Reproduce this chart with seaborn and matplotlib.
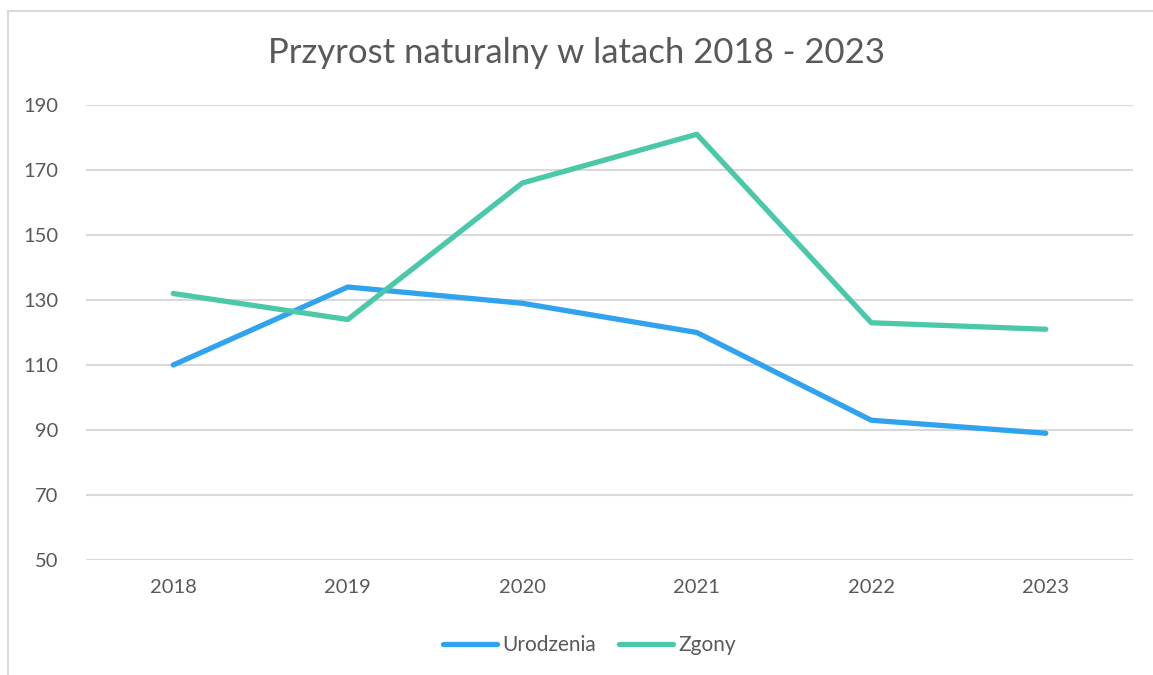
import pandas as pd
import seaborn as sns
import matplotlib.pyplot as plt
from matplotlib.patches import Rectangle

years = ['2018', '2019', '2020', '2021', '2022', '2023']
urodzenia = [110, 134, 129, 120, 93, 89]
zgony = [132, 124, 166, 181, 123, 121]
y_ticks = [50, 70, 90, 110, 130, 150, 170, 190]

df = pd.DataFrame({
    'rok': years * 2,
    'wartosc': urodzenia + zgony,
    'seria': ['Urodzenia'] * len(years) + ['Zgony'] * len(years),
})

sns.set_theme(style='white')
plt.rcParams['font.family'] = ['Lato', 'DejaVu Sans']

fig = plt.figure(figsize=(11.53, 6.75), dpi=100)
ax = fig.add_axes([0.0746, 0.1704, 0.9081, 0.674])

# light frame around the whole chart area
fig.patches.append(Rectangle((8 / 1153, -0.05), 1.2, 1 - 11 / 675 + 0.05,
                             transform=fig.transFigure, fill=False,
                             edgecolor='#D9D9D9', linewidth=1.5))

palette = {'Urodzenia': '#2FA3EE', 'Zgony': '#4BC8A9'}
sns.lineplot(data=df, x='rok', y='wartosc', hue='seria', palette=palette,
             linewidth=3.8, ax=ax, solid_capstyle='round', solid_joinstyle='round',
             legend=False)

ax.set_xlim(-0.5, len(years) - 0.5)
ax.set_ylim(50, 190)
ax.set_yticks(y_ticks)
ax.yaxis.grid(True, color='#D9D9D9', linewidth=1.5)
ax.set_axisbelow(True)
for s in ax.spines.values():
    s.set_visible(False)
ax.tick_params(axis='both', length=0, labelsize=14.5, labelcolor='#595959')
ax.tick_params(axis='y', pad=20)
ax.tick_params(axis='x', pad=14)
ax.set_xlabel('')
ax.set_ylabel('')

fig.suptitle('Przyrost naturalny w latach 2018 - 2023', y=0.945,
             fontsize=25, color='#595959')

handles = [plt.Line2D([], [], color=palette[k], linewidth=3.8, solid_capstyle='round')
           for k in palette]
fig.legend(handles, list(palette), loc='center', bbox_to_anchor=(0.511, 0.044),
           ncol=2, frameon=False, fontsize=15, labelcolor='#595959',
           handlelength=2.6, handletextpad=0.25, columnspacing=1.1)

fig.savefig('out.png', dpi=100)
